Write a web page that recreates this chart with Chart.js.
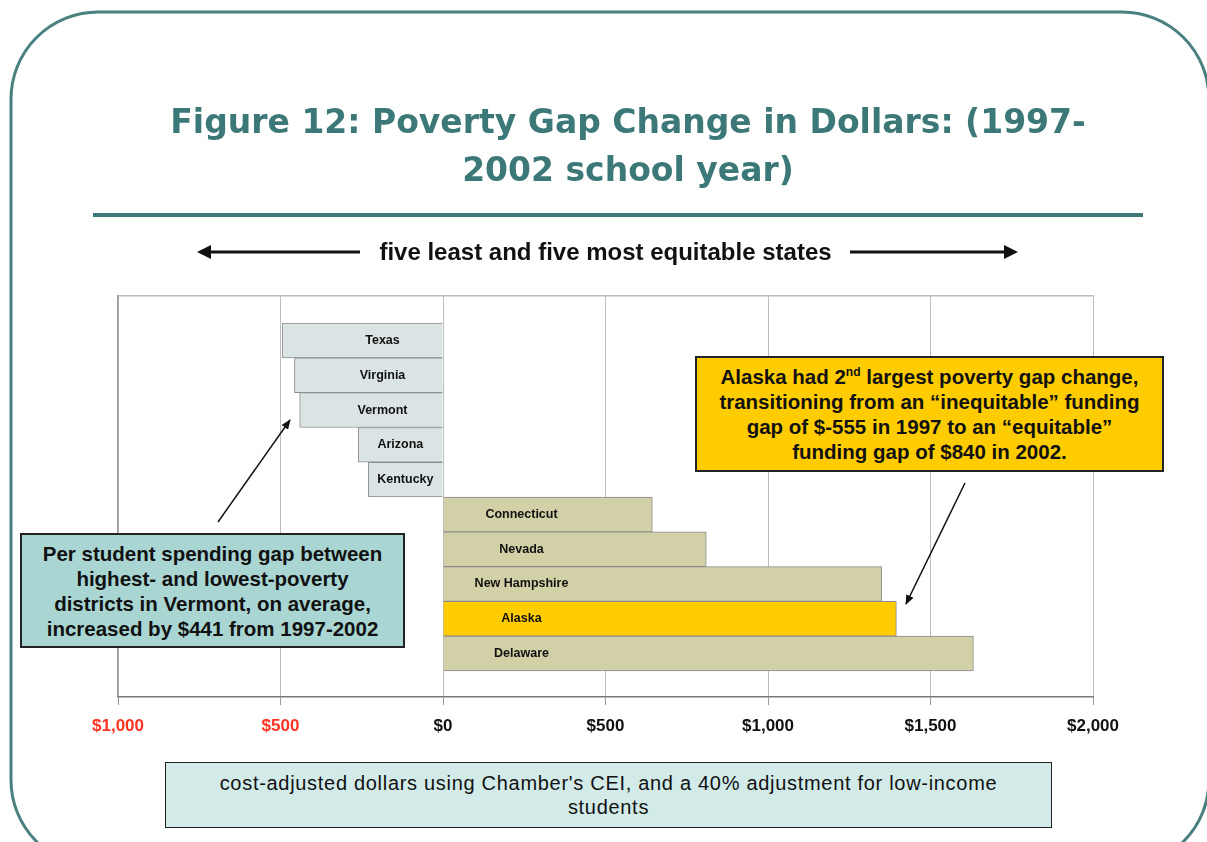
<!DOCTYPE html>
<html>
<head>
<meta charset="utf-8">
<script src="https://cdn.jsdelivr.net/npm/chart.js@4"></script>
<style>
  body { margin: 0; width: 1207px; height: 842px; overflow: hidden; background: #fff; position: relative;
         font-family: "Liberation Sans", Arial, sans-serif; }
  #chart { position: absolute; left: 0; top: 0; }
  svg { position: absolute; left: 0; top: 0; }
  .title { position: absolute; left: 0; width: 1256px; top: 98px; text-align: center; color: #3d7878;
           font-family: "DejaVu Sans", Verdana, sans-serif; font-weight: bold; font-size: 33px; line-height: 48px; }
  .sub { position: absolute; left: 0; width: 1211px; top: 238px; text-align: center; font-weight: bold;
         font-size: 24px; line-height: 28px; color: #111; }
  .box { position: absolute; box-sizing: border-box; border: 2px solid #222; display: flex;
         align-items: center; justify-content: center; text-align: center; color: #111; }
  .yellow { left: 695px; top: 356px; width: 469px; height: 116px; background: #ffcc00;
            font-weight: bold; font-size: 20.5px; line-height: 25px; }
  .teal { left: 20px; top: 533px; width: 385px; height: 115px; background: #a9d6d3;
          font-weight: bold; font-size: 20.5px; line-height: 25px; }
  .foot { left: 165px; top: 762px; width: 887px; height: 66px; background: #d2ebe9;
          font-size: 20px; line-height: 24px; letter-spacing: 0.7px; border-width: 1.5px; }
  sup { font-size: 12px; line-height: 0; vertical-align: 8px; }
</style>
</head>
<body>
<canvas id="chart" width="1207" height="842"></canvas>

<svg width="1207" height="842">
  <defs>
    <marker id="head" markerWidth="10" markerHeight="8" refX="9" refY="4" orient="auto" markerUnits="userSpaceOnUse">
      <path d="M0,0 L10,4 L0,8 z" fill="#111"/>
    </marker>
  </defs>
  <rect x="11" y="12" width="1198" height="855" rx="87" fill="none" stroke="#4a8080" stroke-width="3"/>
  <line x1="93" y1="215" x2="1143" y2="215" stroke="#3f7777" stroke-width="4"/>
  <!-- arrows beside the subtitle -->
  <line x1="360" y1="252" x2="206" y2="252" stroke="#111" stroke-width="3"/>
  <path d="M197,252 L211,245 L211,259 z" fill="#111"/>
  <line x1="850" y1="252" x2="1009" y2="252" stroke="#111" stroke-width="3"/>
  <path d="M1018,252 L1004,245 L1004,259 z" fill="#111"/>
  <!-- callout arrows -->
  <line x1="218" y1="522" x2="290" y2="420" stroke="#111" stroke-width="1.5" marker-end="url(#head)"/>
  <line x1="965" y1="483" x2="906" y2="604" stroke="#111" stroke-width="1.5" marker-end="url(#head)"/>
</svg>

<div class="title">Figure 12: Poverty Gap Change in Dollars: (1997-<br>2002 school year)</div>
<div class="sub">five least and five most equitable states</div>
<div class="box yellow"><div>Alaska had 2<sup>nd</sup> largest poverty gap change,<br>transitioning from an “inequitable” funding<br>gap of $-555 in 1997 to an “equitable”<br>funding gap of $840 in 2002.</div></div>
<div class="box teal"><div>Per student spending gap between<br>highest- and lowest-poverty<br>districts in Vermont, on average,<br>increased by $441 from 1997-2002</div></div>
<div class="box foot"><div>cost-adjusted dollars using Chamber's CEI, and a 40% adjustment for low-income<br>students</div></div>

<script>
// states, top to bottom
const states = ['Texas', 'Virginia', 'Vermont', 'Arizona', 'Kentucky',
                'Connecticut', 'Nevada', 'New Hampshire', 'Alaska', 'Delaware'];
// poverty gap change 1997-2002, dollars
const gapChange = [-495, -457, -441, -261, -230, 644, 810, 1350, 1395, 1632];
const highlighted = 'Alaska';
const xMin = -1000;
const xMax = 2000;
const xStep = 500;

const negColor = '#dbe4e4';
const posColor = '#d2d0a6';
const hiColor = '#ffcc00';

const barColors = [];
for (let i = 0; i < states.length; i++) {
    if (states[i] === highlighted) barColors.push(hiColor);
    else if (gapChange[i] < 0) barColors.push(negColor);
    else barColors.push(posColor);
}

// write the state name inside each bar
const barNames = {
    id: 'barNames',
    afterDatasetsDraw(chart) {
        const ctx = chart.ctx;
        const bars = chart.getDatasetMeta(0).data;
        ctx.save();
        ctx.font = 'bold 12.5px "Liberation Sans", Arial, sans-serif';
        ctx.fillStyle = '#111';
        ctx.textAlign = 'center';
        ctx.textBaseline = 'middle';
        bars.forEach(function (bar, i) {
            let cx;
            if (gapChange[i] < 0) cx = Math.max((bar.x + bar.base) / 2, bar.base - 60);
            else cx = bar.base + 78;
            ctx.fillText(states[i], cx, bar.y);
        });
        ctx.restore();
    }
};

new Chart(document.getElementById('chart'), {
    type: 'bar',
    data: {
        datasets: [{
            data: states.map((s, i) => ({ x: gapChange[i], y: i })),
            backgroundColor: barColors,
            borderColor: '#8c8c8c',
            borderWidth: 1,
            barPercentage: 1,
            categoryPercentage: 1
        }]
    },
    options: {
        indexAxis: 'y',
        responsive: false,
        animation: false,
        devicePixelRatio: 1,
        layout: { padding: { left: 118, right: 114, top: 296, bottom: 100 } },
        plugins: { legend: { display: false }, tooltip: { enabled: false } },
        scales: {
            x: {
                type: 'linear',
                position: 'bottom',
                min: xMin,
                max: xMax,
                afterFit(scale) { scale.height = 45; },
                ticks: {
                    stepSize: xStep,
                    padding: 11,
                    font: { family: '"Liberation Sans", Arial, sans-serif', size: 17, weight: 'bold' },
                    color: (c) => c.tick && c.tick.value < 0 ? '#ff3322' : '#111',
                    callback: (v) => '$' + Math.abs(v).toLocaleString('en-US')
                },
                grid: { color: '#bdbdbd', tickColor: '#999', tickLength: 8, lineWidth: 1 },
                border: { color: '#777', width: 1.5 }
            },
            xTop: {
                type: 'linear',
                position: 'top',
                axis: 'x',
                min: xMin,
                max: xMax,
                ticks: { display: false },
                grid: { display: false, drawTicks: false },
                border: { color: '#bbb', width: 1.5 }
            },
            y: {
                type: 'linear',
                reverse: true,
                offset: false,
                min: -1.28,
                max: 10.25,
                ticks: { display: false },
                grid: { display: false, drawTicks: false, offset: false },
                border: { color: '#999', width: 1.5 }
            }
        }
    },
    plugins: [barNames]
});
</script>
</body>
</html>
